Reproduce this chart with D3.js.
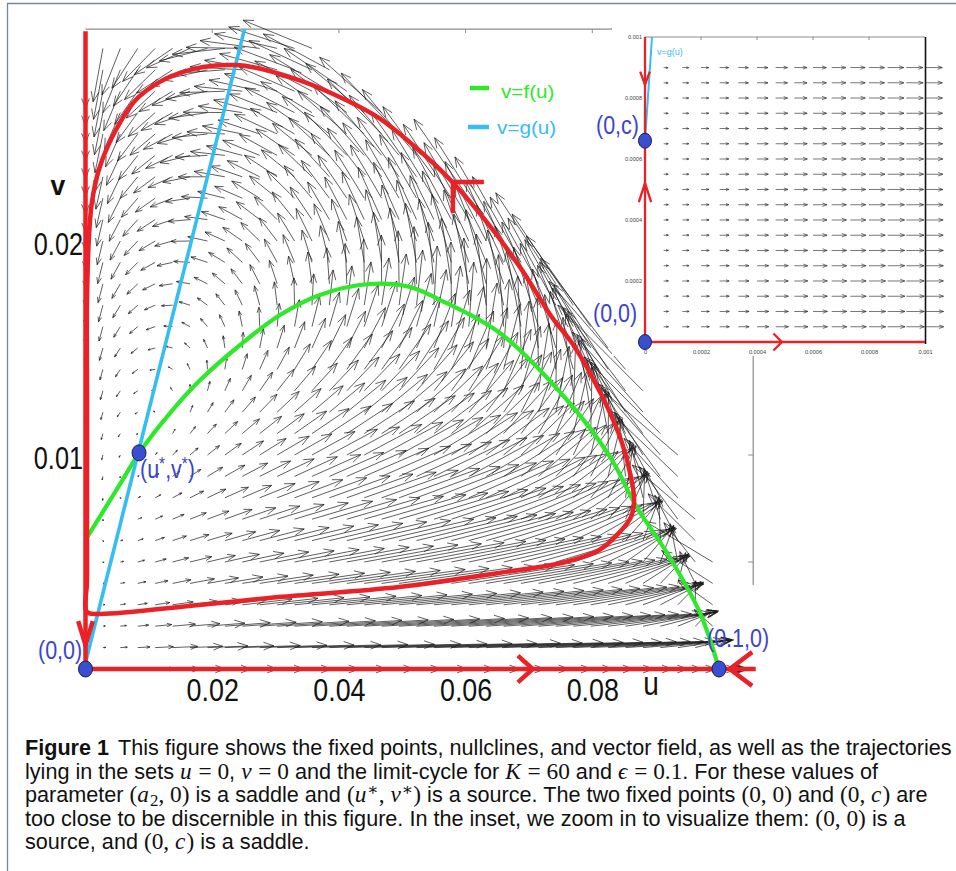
<!DOCTYPE html>
<html>
<head>
<meta charset="utf-8">
<script src="https://cdn.jsdelivr.net/npm/d3@7/dist/d3.min.js"></script>
<style>
  body { margin: 0; background: #fff; }
  svg { display: block; }
  text { font-family: "Liberation Sans", Arial, sans-serif; }
</style>
</head>
<body>
<div id="chart"></div>
<script>
const width = 956, height = 871;

// nullcline v = f(u) (green)
const greenU = [0, 0.00584, 0.00845, 0.01334, 0.0181, 0.0244, 0.0307, 0.037, 0.0449, 0.0512, 0.056, 0.0654, 0.076, 0.0828, 0.087, 0.0918, 0.097, 0.1];
const greenV = [0.00603, 0.00883, 0.01009, 0.01196, 0.0135, 0.01514, 0.01654, 0.01748, 0.01799, 0.01785, 0.01724, 0.0157, 0.01257, 0.00991, 0.00757, 0.00542, 0.00262, 0];

// nullcline v = g(u) (blue)
const blueU = [0, 0.0251];
const blueV = [0.0003, 0.0299];

// limit cycle (red)
const cycleU = [0.00024, 0.0021, 0.0179, 0.0305, 0.0495, 0.0653, 0.0758, 0.0811, 0.0842, 0.0861, 0.0866, 0.0861, 0.0847, 0.0826, 0.08, 0.0768, 0.0736, 0.0689, 0.0637, 0.0579, 0.0526, 0.0463, 0.0411, 0.0337, 0.0238, 0.0148, 0.0084, 0.0048, 0.0021, 0.001, 0.00055, 0.00024, 0.00024, 0.00024, 0.00024];
const cycleV = [0.00266, 0.00257, 0.00299, 0.00336, 0.00383, 0.00449, 0.005, 0.00556, 0.00636, 0.0071, 0.0079, 0.00897, 0.01056, 0.0121, 0.01364, 0.01523, 0.01645, 0.01864, 0.02075, 0.02276, 0.02425, 0.02575, 0.02659, 0.02752, 0.02822, 0.02785, 0.02673, 0.02519, 0.02332, 0.02178, 0.02019, 0.01724, 0.01257, 0.0079, 0.00416];

// right-hand limit of the sampled vector field, per v
const edgeV = [0, 0.005, 0.01, 0.015, 0.02, 0.025, 0.03];
const edgeU = [0.1, 0.099, 0.094, 0.084, 0.068, 0.05, 0.034];

const fixedU = [0, 0.00845, 0.1];
const fixedV = [0, 0.0101, 0];
const fixedLabels = ["(0,0)", "(u*,v*)", "(0.1,0)"];

const xTicks = [0.02, 0.04, 0.06, 0.08];
const yTicks = [0.01, 0.02];
const legendLabels = ["v=f(u)", "v=g(u)"];

// inset
const insetC = 0.00066;
const insetBlueU = [0, 0.000025];
const insetBlueV = [0.00066, 0.001];
const insetFixedU = [0, 0];
const insetFixedV = [0, 0.00066];
const insetLabels = ["(0,0)", "(0,c)"];
const insetXTicks = [0, 0.0002, 0.0004, 0.0006, 0.0008, 0.001];
const insetYTicks = [0.0002, 0.0004, 0.0006, 0.0008, 0.001];

const epsilon = 0.1;

const captionLines = [
    [["Figure 1", "b"], ["This figure shows the fixed points, nullclines, and vector field, as well as the trajectories", "gap"]],
    [["lying in the sets ", "n"], ["u", "i"], [" = 0", "r"], [", ", "n"], ["v", "i"], [" = 0", "r"], [" and the limit-cycle for ", "n"], ["K", "i"], [" = 60", "r"], [" and ", "n"], ["\u03f5", "i"], [" = 0.1", "r"], [". For these values of", "n"]],
    [["parameter ", "n"], ["(", "r"], ["a", "i"], ["2", "sub"], [", 0)", "r"], [" is a saddle and ", "n"], ["(", "r"], ["u", "i"], ["\u2217", "sup"], [", ", "r"], ["v", "i"], ["\u2217", "sup"], [")", "r"], [" is a source. The two fixed points ", "n"], ["(0, 0)", "r"], [" and ", "n"], ["(0, ", "r"], ["c", "i"], [")", "r"], [" are", "n"]],
    [["too close to be discernible in this figure. In the inset, we zoom in to visualize them: ", "n"], ["(0, 0)", "r"], [" is a", "n"]],
    [["source, and ", "n"], ["(0, ", "r"], ["c", "i"], [")", "r"], [" is a saddle.", "n"]]
];

const red = "#ea2127", green = "#2ee82a", blue = "#36bdf2", dotBlue = "#3a4fcf", labelBlue = "#3a44d0";

const x = d3.scaleLinear().domain([0, 0.1]).range([85.5, 719]);
const y = d3.scaleLinear().domain([0, 0.03]).range([669, 27]);
const ix = d3.scaleLinear().domain([0, 0.001]).range([645, 925]);
const iy = d3.scaleLinear().domain([0, 0.001]).range([342, 37]);

const f = d3.scaleLinear().domain(greenU).range(greenV);
const g = d3.scaleLinear().domain(blueU).range(blueV);
const edge = d3.scaleLinear().domain(edgeV).range(edgeU);
const field = (u, v) => [u * (f(u) - v), 1.3 * epsilon * v * (g(u) - v)];
const insetField = (u, v) => [u * (f(0) - v), epsilon * v * (insetC - v)];

function arrowPath(x0, y0, x1, y1, headMax, frac, headMin) {
    const dx = x1 - x0, dy = y1 - y0, len = Math.hypot(dx, dy);
    if (len < 0.2) return "";
    const a = Math.atan2(dy, dx),
        h = Math.max(Math.min(frac * len, headMax), headMin),
        s = 0.36;
    return "M" + x0 + "," + y0 + "L" + x1 + "," + y1 +
        "M" + (x1 - h * Math.cos(a - s)) + "," + (y1 - h * Math.sin(a - s)) +
        "L" + x1 + "," + y1 +
        "L" + (x1 - h * Math.cos(a + s)) + "," + (y1 - h * Math.sin(a + s));
}

// chevron on a trajectory: tip at (px,py), pointing along dir (deg)
function chevron(px, py, dir, arm, spread) {
    const a = (dir + 180) * Math.PI / 180, s = spread * Math.PI / 180;
    return "M" + (px + arm * Math.cos(a - s)) + "," + (py + arm * Math.sin(a - s)) +
        "L" + px + "," + py +
        "L" + (px + arm * Math.cos(a + s)) + "," + (py + arm * Math.sin(a + s));
}

function narrowText(sel, px, py, str, size, sx, anchor) {
    return sel.append("text")
        .attr("transform", "translate(" + px + "," + py + ") scale(" + sx + ",1)")
        .attr("font-size", size)
        .attr("text-anchor", anchor || "start")
        .text(str);
}

const svg = d3.select("#chart").append("svg")
    .attr("width", width)
    .attr("height", height);

svg.append("rect").attr("width", width).attr("height", height).attr("fill", "#fff");
svg.append("path").attr("d", "M7.5,871V3.5H956")
    .attr("fill", "none").attr("stroke", "#7486a3").attr("stroke-width", 1.3);

// ---- main panel ----
const main = svg.append("g");

// frame
main.append("path")
    .attr("d", "M" + x(0) + "," + y(0.0299) + "H" + x(0.1054) + "V" + 585)
    .attr("fill", "none").attr("stroke", "#8c8c8c").attr("stroke-width", 1.2);
main.append("g").selectAll("line").data(xTicks).join("line")
    .attr("x1", d => x(d)).attr("x2", d => x(d))
    .attr("y1", y(0.0299)).attr("y2", y(0.0299) + 4)
    .attr("stroke", "#8c8c8c");
main.append("g").selectAll("line").data([0.005, 0.01, 0.015]).join("line")
    .attr("x1", x(0.1054) - 5).attr("x2", x(0.1054))
    .attr("y1", d => y(d)).attr("y2", d => y(d))
    .attr("stroke", "#8c8c8c");

// vector field
const stepU = 0.00275, stepV = 0.001, arrowScale = 26;
const cells = [];
for (let i = 0; i <= 38; i++) {
    for (let j = 0; j <= 29; j++) {
        const u = i * stepU, v = j * stepV;
        if (u > edge(v) + 1e-9) continue;
        cells.push({u, v});
    }
}
main.append("g").attr("class", "field")
    .selectAll("path").data(cells).join("path")
    .attr("d", d => {
        const [du, dv] = field(d.u, d.v);
        return arrowPath(x(d.u), y(d.v), x(d.u + arrowScale * du), y(d.v + arrowScale * dv), 11, 0.3, 1.5);
    })
    .attr("fill", "none")
    .attr("stroke", "#1a1a1a")
    .attr("stroke-width", 0.8)
    .attr("stroke-opacity", 0.88);

// nullclines
main.append("path")
    .datum(d3.zip(greenU, greenV))
    .attr("d", d3.line().x(d => x(d[0])).y(d => y(d[1])).curve(d3.curveCatmullRom))
    .attr("fill", "none").attr("stroke", green).attr("stroke-width", 4.2);
main.append("path")
    .datum(d3.zip(blueU, blueV))
    .attr("d", d3.line().x(d => x(d[0])).y(d => y(d[1])))
    .attr("fill", "none").attr("stroke", blue).attr("stroke-width", 3.6);

// limit cycle
main.append("path")
    .datum(d3.zip(cycleU, cycleV))
    .attr("d", d3.line().x(d => x(d[0])).y(d => y(d[1])).curve(d3.curveCatmullRomClosed))
    .attr("fill", "none").attr("stroke", red).attr("stroke-width", 4.5);

// invariant axes u = 0 and v = 0
main.append("path")
    .attr("d", "M" + x(0) + "," + y(0.0298) + "V" + y(0) + "H" + x(0.1058))
    .attr("fill", "none").attr("stroke", red).attr("stroke-width", 4.5);

const redMarks = [
    {u: 0.058, v: 0.02276, dir: -135, arm: 31, spread: 45},
    {u: 0, v: 0.00112, dir: 90, arm: 25, spread: 17},
    {u: 0.0706, v: 0, dir: 0, arm: 20, spread: 42},
    {u: 0.1017, v: 0, dir: 180, arm: 28, spread: 37}
];
main.append("g").selectAll("path").data(redMarks).join("path")
    .attr("d", d => chevron(x(d.u), y(d.v), d.dir, d.arm, d.spread))
    .attr("fill", "none").attr("stroke", red).attr("stroke-width", 4.5);

// tick labels
const xAxis = d3.axisBottom(x).tickValues(xTicks).tickSize(0).tickFormat(d3.format(".2f"));
const yAxis = d3.axisLeft(y).tickValues(yTicks).tickSize(0).tickFormat(d3.format(".2f"));
const gx = main.append("g").attr("transform", "translate(0," + y(0) + ")").call(xAxis);
gx.select(".domain").remove();
gx.selectAll("text")
    .attr("x", 0).attr("y", 32).attr("dy", null)
    .attr("font-size", 32).attr("font-family", '"Liberation Sans", Arial, sans-serif')
    .attr("fill", "#111").attr("transform", "scale(0.84,1)");
const gy = main.append("g").attr("transform", "translate(83,0)").call(yAxis);
gy.select(".domain").remove();
gy.selectAll("text")
    .attr("x", 0).attr("dy", "0.43em")
    .attr("font-size", 32).attr("font-family", '"Liberation Sans", Arial, sans-serif')
    .attr("fill", "#111").attr("transform", "scale(0.79,1)");

narrowText(main, 651, 695, "u", 33, 0.85, "middle").attr("fill", "#111");
narrowText(main, 58, 195, "v", 28, 0.95, "middle").attr("fill", "#111").attr("font-weight", "bold");

// legend
const legend = main.append("g").selectAll("g").data(legendLabels).join("g")
    .attr("transform", (d, i) => "translate(0," + (i === 0 ? 88 : 127) + ")");
legend.append("line")
    .attr("x1", (d, i) => i === 0 ? 470 : 468).attr("x2", 489)
    .attr("stroke", (d, i) => i === 0 ? green : blue).attr("stroke-width", 4.5);
legend.append("text")
    .attr("transform", (d, i) => "translate(" + (i === 0 ? 501 : 497) + "," + (i === 0 ? 9.5 : 7) + ") scale(1.15,1)")
    .attr("font-size", 18)
    .attr("fill", (d, i) => i === 0 ? green : blue)
    .text(d => d);

// fixed points
const fixedPts = d3.range(fixedU.length).map(i => ({u: fixedU[i], v: fixedV[i], label: fixedLabels[i]}));
main.append("g").selectAll("ellipse").data(fixedPts).join("ellipse")
    .attr("cx", d => x(d.u)).attr("cy", d => y(d.v))
    .attr("rx", 7).attr("ry", 8)
    .attr("fill", dotBlue).attr("stroke", "#1c1f50").attr("stroke-width", 1);

const labelPos = [[38, 659], [140, 478], [707, 647]];
fixedPts.forEach((d, i) => {
    const t = main.append("text")
        .attr("transform", "translate(" + labelPos[i][0] + "," + labelPos[i][1] + ") scale(0.86,1)")
        .attr("font-size", 25).attr("fill", labelBlue);
    if (d.label === "(u*,v*)") {
        t.append("tspan").text("(u");
        t.append("tspan").text("*").attr("dy", -8).attr("font-size", 18);
        t.append("tspan").text(",v").attr("dy", 8);
        t.append("tspan").text("*").attr("dy", -8).attr("font-size", 18);
        t.append("tspan").text(")").attr("dy", 8);
    } else {
        t.text(d.label);
    }
});

// ---- inset ----
const inset = svg.append("g");
inset.append("rect").attr("x", 612).attr("y", 22).attr("width", 344).attr("height", 334).attr("fill", "#fff");

inset.append("path")
    .attr("d", "M" + ix(0) + "," + iy(0.001) + "H" + ix(0.001))
    .attr("stroke", "#8c8c8c").attr("stroke-width", 1).attr("fill", "none");
inset.append("g").selectAll("line").data(insetXTicks.slice(1, -1)).join("line")
    .attr("x1", d => ix(d)).attr("x2", d => ix(d))
    .attr("y1", iy(0.001)).attr("y2", iy(0.001) + 3)
    .attr("stroke", "#8c8c8c");
inset.append("line")
    .attr("x1", ix(0.001) + 0.5).attr("x2", ix(0.001) + 0.5)
    .attr("y1", iy(0.001)).attr("y2", iy(0) + 2)
    .attr("stroke", "#111").attr("stroke-width", 1.6);

// inset quiver, length ~ sqrt of speed
const insetCells = [];
for (let i = 1; i <= 15; i++) {
    for (let j = 1; j <= 18; j++) insetCells.push({u: i * 0.001 / 15, v: j * 0.00005});
}
const colPx = ix(0.001 / 15) - ix(0);
const pxVec = d => {
    const [du, dv] = insetField(d.u, d.v);
    return [ix(du) - ix(0), iy(dv) - iy(0)];
};
const maxLen = d3.max(insetCells, d => Math.hypot(...pxVec(d)));
inset.append("g").attr("class", "field")
    .selectAll("path").data(insetCells).join("path")
    .attr("d", d => {
        const [px, py] = pxVec(d), m = Math.hypot(px, py);
        const len = colPx * Math.sqrt(m / maxLen);
        const x0 = ix(d.u), y0 = iy(d.v);
        return arrowPath(x0, y0, x0 + len * px / m, y0 + len * py / m, 5, 0.35, 2.5);
    })
    .attr("fill", "none").attr("stroke", "#2a2a2a").attr("stroke-width", 0.8).attr("stroke-opacity", 0.8);

inset.append("path")
    .datum(d3.zip(insetBlueU, insetBlueV))
    .attr("d", d3.line().x(d => ix(d[0])).y(d => iy(d[1])))
    .attr("stroke", blue).attr("stroke-width", 2).attr("fill", "none");
inset.append("path")
    .attr("d", "M" + ix(0) + "," + iy(0.001) + "V" + iy(0) + "H" + ix(0.001))
    .attr("stroke", red).attr("stroke-width", 2.3).attr("fill", "none");

const insetMarks = [
    {u: 0, v: 0.000843, dir: 90, arm: 14, spread: 20},
    {u: 0, v: 0.000521, dir: -90, arm: 20, spread: 18},
    {u: 0.000489, v: 0, dir: 0, arm: 12, spread: 45}
];
inset.append("g").selectAll("path").data(insetMarks).join("path")
    .attr("d", d => chevron(ix(d.u), iy(d.v), d.dir, d.arm, d.spread))
    .attr("fill", "none").attr("stroke", red).attr("stroke-width", 2.3);

const gix = inset.append("g").attr("transform", "translate(0," + iy(0) + ")")
    .call(d3.axisBottom(ix).tickValues(insetXTicks).tickSize(0).tickPadding(8).tickFormat(d => d === 0 ? "0" : String(+d.toFixed(4))));
gix.select(".domain").remove();
gix.selectAll("text").attr("font-size", 5.6).attr("fill", "#444").attr("font-family", '"Liberation Sans", Arial, sans-serif');
const giy = inset.append("g").attr("transform", "translate(" + (ix(0) - 3) + ",0)")
    .call(d3.axisLeft(iy).tickValues(insetYTicks).tickSize(0).tickPadding(0).tickFormat(d => String(+d.toFixed(4))));
giy.select(".domain").remove();
giy.selectAll("text").attr("font-size", 5.6).attr("fill", "#444").attr("font-family", '"Liberation Sans", Arial, sans-serif');

inset.append("text").attr("x", 657).attr("y", 55).attr("font-size", 9).attr("fill", blue).text("v=g(u)");

inset.append("g").selectAll("ellipse").data(d3.range(2)).join("ellipse")
    .attr("cx", i => ix(insetFixedU[i])).attr("cy", i => iy(insetFixedV[i]))
    .attr("rx", 6.5).attr("ry", 7.5)
    .attr("fill", dotBlue).attr("stroke", "#1c1f50").attr("stroke-width", 1);

const insetLabelPos = [[593, 322], [596, 134]];
insetLabels.forEach((s, i) => {
    narrowText(inset, insetLabelPos[i][0], insetLabelPos[i][1], s, 25, 0.86).attr("fill", labelBlue);
});

// ---- caption ----
const serif = '"Liberation Serif", "DejaVu Serif", serif';
const cap = svg.append("g");
const capTexts = captionLines.map((segs, li) => {
    const t = cap.append("text")
        .attr("x", 25).attr("y", 755 + li * 23.5)
        .attr("font-size", 18).attr("fill", "#111");
    let shift = 0, prevItalic = false;
    segs.forEach(([str, kind]) => {
        const s = t.append("tspan").text(str);
        let want = 0;
        if (kind === "b") s.attr("font-weight", "bold");
        if (kind === "gap") s.attr("dx", 9);
        if (kind === "i" || kind === "r") s.attr("font-family", serif).attr("font-size", "1.08em");
        if (kind === "i") s.attr("font-style", "italic");
        if (kind === "sub") { s.attr("font-family", serif).attr("font-size", "0.78em"); want = 4; }
        if (kind === "sup") { s.attr("font-family", serif).attr("font-size", "0.78em"); want = -7; }
        if (prevItalic) s.attr("dx", 1);
        if (want !== shift) { s.attr("dy", want - shift); shift = want; }
        prevItalic = kind === "i";
    });
    return t;
});
const firstLen = capTexts[0].node().getComputedTextLength();
const capSize = 18 * 918 / firstLen;
capTexts.forEach(t => t.attr("font-size", capSize));
</script>
</body>
</html>
